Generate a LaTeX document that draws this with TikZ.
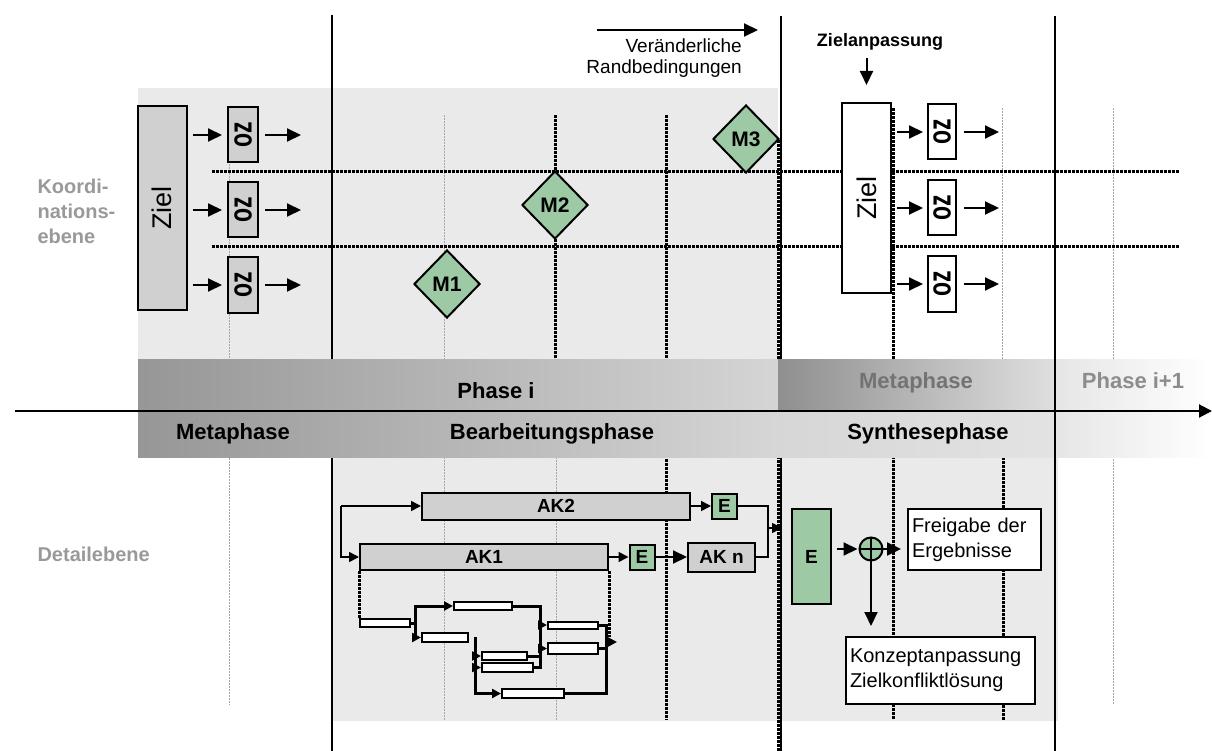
\documentclass[tikz,border=0pt]{standalone}
\usepackage{fontspec}
\setmainfont{Liberation Sans}
\usepackage{graphicx}
\usetikzlibrary{positioning, arrows.meta, shapes.geometric, calc}

\definecolor{panelgray}{RGB}{234,234,234}
\definecolor{boxgray}{RGB}{208,208,208}
\definecolor{mgreen}{RGB}{157,202,164}

\begin{document}
\begin{tikzpicture}[x = 1pt, y = -1pt,
	arr/.style = {-{Triangle[length = 14pt, width = 13pt]}, line width = 2pt},
	sarr/.style = {-{Triangle[length = 10pt, width = 10pt]}, line width = 1.6pt},
	net/.style = {line width = 3pt},
	narr/.style = {net, -{Triangle[length = 9pt, width = 9pt]}},
	lightdot/.style = {gray!70, line width = 1pt, dash pattern = on 2pt off 1pt},
	blackdot/.style = {black, line width = 3pt, dash pattern = on 3pt off 1pt},
	graybox/.style = {draw, line width = 2pt, fill = boxgray, inner sep = 0pt},
	whitebox/.style = {draw, line width = 2pt, fill = white, inner sep = 0pt},
	greenbox/.style = {draw, line width = 2pt, fill = mgreen, inner sep = 0pt},
	task/.style = {draw, line width = 2pt, fill = white, inner sep = 0pt},
	ms/.style = {diamond, draw, line width = 2pt, fill = mgreen, aspect = 1, inner sep = 0pt,
		minimum width = 66pt, minimum height = 68pt, font = \fontsize{21}{24}\selectfont\bfseries},
	bandtext/.style = {font = \fontsize{22}{24}\selectfont\bfseries},
	sidetext/.style = {font = \fontsize{20}{25}\selectfont\bfseries, text = black!40, align = left, anchor = west},
	oz/.style = {graybox, minimum width = 30pt, minimum height = 55pt, font = \fontsize{23}{24}\selectfont\bfseries},
	ozw/.style = {oz, fill = white},
	aktext/.style = {font = \fontsize{19}{22}\selectfont\bfseries},
	plain/.style = {font = \fontsize{20}{25}\selectfont, align = left}]

	\useasboundingbox (0,0) rectangle (1212,751);

	\fill[panelgray] (138,88) rectangle (778,359);
	\fill[panelgray] (332,457) rectangle (1058,721);

	\foreach \x/\ya/\yb in {229/110/705, 444/115/720, 1002/108/359, 1113/108/705, 556/457/720}
		\draw[lightdot] (\x,\ya) -- (\x,\yb);
	\foreach \x/\ya/\yb in {555/115/359, 666/115/720, 778/140/751, 893/108/720, 1003/457/720}
		\draw[blackdot] (\x,\ya) -- (\x,\yb);
	\draw[blackdot] (212,172) -- (1180,172);
	\draw[blackdot] (212,247) -- (1180,247);

	\draw[line width = 1.8pt] (332,15) -- (332,751);
	\draw[line width = 1.8pt] (781,16) -- (781,751);

	\shade[left color = gray!82, right color = gray!33] (138,359) rectangle (778,411);
	\shade[left color = gray!82, right color = gray!32] (138,411) rectangle (778,457);
	\shade[left color = gray!32, right color = gray!22] (778,411) rectangle (1055,457);
	\shade[left color = gray!88, right color = gray!25] (778,359) rectangle (1055,411);
	\shade[left color = gray!20, right color = white] (1055,359) rectangle (1212,457);

	\draw[line width = 1.8pt] (1055,16) -- (1055,751);
	\draw[-{Triangle[length = 13pt, width = 13pt]}, line width = 2pt] (15,411) -- (1212,411);

	\node[bandtext] (phasei) at (496,391) {Phase i};
	\node[bandtext, text = black!55] (metaup) at (916,383) {Metaphase};
	\node[bandtext, text = black!45] (phasenext) at (1133,381) {Phase i+1};
	\node[bandtext] (metalow) at (233,434) {Metaphase};
	\node[bandtext] (bearb) at (552,434) {Bearbeitungsphase};
	\node[bandtext] (synth) at (928,434) {Synthesephase};

	\node[sidetext] (koord) at (34,211) {Koordi-\\nations-\\ebene};
	\node[sidetext] (detail) at (34,554) {Detailebene};

	\node[graybox, minimum width = 49pt, minimum height = 204pt, font = \fontsize{27}{28}\selectfont] (zielL) at (162,208) {\rotatebox{90}{Ziel}};
	\node[oz] (ozL1) at (243,135) {\rotatebox{90}{\scalebox{1}[1.4]{oz}}};
	\node[oz] (ozL2) at (243,210) {\rotatebox{90}{\scalebox{1}[1.4]{oz}}};
	\node[oz] (ozL3) at (243,285) {\rotatebox{90}{\scalebox{1}[1.4]{oz}}};
	\foreach \i in {1,2,3} {
		\draw[arr, shorten <= 5pt, shorten >= 5pt] (zielL.east |- ozL\i) -- (ozL\i.west);
		\draw[arr, shorten <= 6pt] (ozL\i.east) -- ++(42,0);
	}

	\node[ms] (M1) at (447,284) {M1};
	\node[ms] (M2) at (555,205) {M2};
	\node[ms] (M3) at (746,139) {M3};

	\coordinate (rb1) at (597,30);
	\coordinate (rb2) at (758,30);
	\draw[arr] (rb1) -- (rb2);
	\node[align = right, anchor = north east, inner sep = 0pt, font = \fontsize{19}{21}\selectfont] (randb) at (742,39) {Veränderliche\\Randbedingungen};

	\node[whitebox, minimum width = 49pt, minimum height = 190pt, font = \fontsize{27}{28}\selectfont] (zielR) at (866.5,198) {\rotatebox{90}{Ziel}};
	\node[font = \fontsize{18}{22}\selectfont\bfseries] (zanp) at (880,42) {Zielanpassung};
	\draw[arr, shorten <= 4pt, shorten >= 17pt] (zanp.south -| zielR.north) -- (zielR.north);
	\node[ozw, minimum width = 28pt] (ozR1) at (942,132) {\rotatebox{90}{\scalebox{1}[1.4]{oz}}};
	\node[ozw, minimum width = 28pt] (ozR2) at (942,208) {\rotatebox{90}{\scalebox{1}[1.4]{oz}}};
	\node[ozw, minimum width = 28pt] (ozR3) at (942,284) {\rotatebox{90}{\scalebox{1}[1.4]{oz}}};
	\foreach \i in {1,2,3} {
		\draw[arr, shorten <= 5pt, shorten >= 4pt] (zielR.east |- ozR\i) -- (ozR\i.west);
		\draw[arr, shorten <= 7pt] (ozR\i.east) -- ++(42,0);
	}

	\node[graybox, minimum width = 268pt, minimum height = 27pt, aktext] (AK2) at (556,506) {AK2};
	\node[graybox, minimum width = 248pt, minimum height = 26pt, aktext] (AK1) at (484,557) {AK1};
	\node[greenbox, minimum size = 25pt, aktext] (E2) at (724.5,506) {E};
	\node[greenbox, minimum size = 25pt, aktext] (E1) at (642,557) {E};
	\node[graybox, minimum width = 67pt, minimum height = 29pt, aktext] (AKn) at (721.5,557) {AK n};
	\node[greenbox, minimum width = 39pt, minimum height = 95pt, aktext] (Ebig) at (811.5,556.5) {E};
	\node[circle, draw, line width = 2pt, fill = mgreen, minimum size = 23pt, inner sep = 0pt] (plus) at (871,549) {};
	\draw[line width = 1.5pt] (plus.north) -- (plus.south) (plus.west) -- (plus.east);
	\node[whitebox, minimum width = 133pt, minimum height = 61pt, plain, text width = 125pt] (frei) at (974.5,539.5) {Freigabe der\\Ergebnisse};
	\node[whitebox, minimum width = 189pt, minimum height = 67pt, plain, text width = 181pt] (konz) at (940.5,670.5) {Konzeptanpassung\\Zielkonfliktlösung};

	\coordinate (src) at (341,506);
	\draw[sarr] (src) -- (AK2.west);
	\draw[sarr] (src) |- (AK1.west);
	\draw[sarr] (AK2.east) -- (E2.west);
	\draw[sarr] (AK1.east) -- (E1.west);
	\draw[arr] (E1.east) -- (AKn.west);
	\coordinate (join) at (768,528);
	\draw[line width = 1.6pt] (E2.east) -| (join);
	\draw[line width = 1.6pt] (AKn.east) -| (join);
	\draw[sarr, shorten >= 9pt] (join) -- (Ebig.west |- join);
	\draw[arr, shorten <= 5pt, shorten >= 1pt] (Ebig.east |- plus) -- (plus.west);
	\draw[arr, shorten >= 6pt] (plus.east) -- (frei.west |- plus);
	\draw[arr, shorten >= 10pt] (plus.south) -- (plus.south |- konz.north);

	\node[task, minimum width = 50pt, minimum height = 8pt] (b1) at (385,623) {};
	\node[task, minimum width = 58pt, minimum height = 8pt] (b2) at (483,606) {};
	\node[task, minimum width = 46pt, minimum height = 9pt] (b3) at (445,637.5) {};
	\node[task, minimum width = 50pt, minimum height = 7pt] (b4) at (573,625) {};
	\node[task, minimum width = 50pt, minimum height = 11pt] (b5) at (573,648.5) {};
	\node[task, minimum width = 45pt, minimum height = 8pt] (b6) at (504.5,656) {};
	\node[task, minimum width = 51pt, minimum height = 9pt] (b7) at (507.5,667.5) {};
	\node[task, minimum width = 62pt, minimum height = 9pt] (b8) at (533,693.5) {};

	\coordinate (j1) at (415,623);
	\coordinate (j2) at (540,625);
	\coordinate (j3) at (475,637);
	\coordinate (j4) at (606,642);
	\draw[net] (b1.east) -- (j1);
	\draw[narr] (j1) |- (b2.west);
	\draw[narr] (j1) |- (b3.west);
	\draw[net] (b2.east) -| (j2);
	\draw[net] (b6.east) -| (j2);
	\draw[net] (b7.east) -| (j2);
	\draw[narr] (j2) -- (b4.west);
	\draw[narr] (j2 |- b5) -- (b5.west);
	\draw[narr] (j3) |- (b8.west);
	\draw[narr] (j3 |- b6) -- (b6.west);
	\draw[narr] (j3 |- b7) -- (b7.west);
	\draw[net] (b4.east) -| (j4);
	\draw[net] (b5.east) -| (j4);
	\draw[net] (b8.east) -| (j4);
	\draw[narr] (j4) -- ++(11,0);
	\draw[blackdot] (AK1.south west) -- (b1.north west);
	\draw[blackdot] (AK1.south east) -- ++(0,66);
\end{tikzpicture}
\end{document}
